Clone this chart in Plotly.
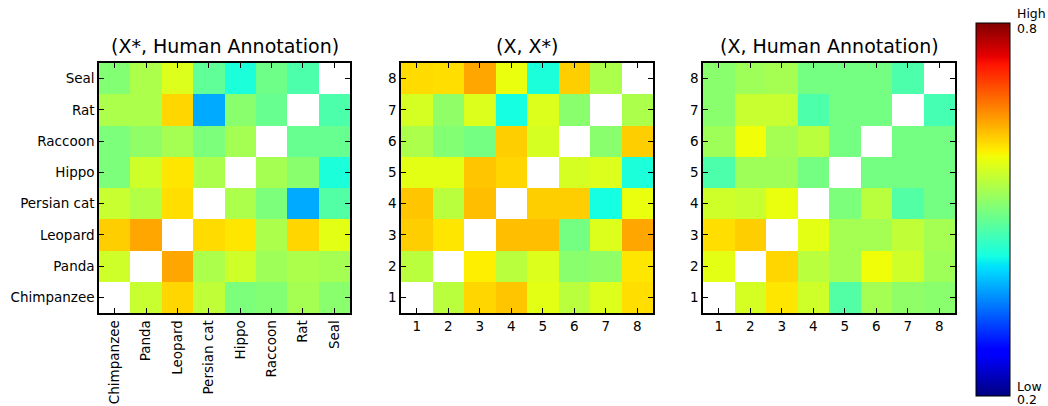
import numpy as np
import plotly.graph_objects as go

W, H = 1048, 406
nan = None

animals = ["Chimpanzee", "Panda", "Leopard", "Persian cat", "Hippo", "Raccoon", "Rat", "Seal"]
nums = ["1", "2", "3", "4", "5", "6", "7", "8"]

# rows listed bottom (row 1) to top (row 8); columns left to right
z_xstar_human = [
    [nan, 0.555, 0.61, 0.55, 0.50, 0.505, 0.53, 0.51],
    [0.56, nan, 0.64, 0.535, 0.56, 0.525, 0.535, 0.53],
    [0.615, 0.64, nan, 0.607, 0.60, 0.535, 0.61, 0.575],
    [0.555, 0.54, 0.605, nan, 0.535, 0.50, 0.375, 0.47],
    [0.50, 0.56, 0.60, 0.535, nan, 0.53, 0.51, 0.43],
    [0.50, 0.515, 0.53, 0.50, 0.53, nan, 0.485, 0.485],
    [0.535, 0.535, 0.61, 0.375, 0.51, 0.485, nan, 0.465],
    [0.505, 0.535, 0.57, 0.48, 0.43, 0.49, 0.465, nan],
]

z_x_xstar = [
    [nan, 0.545, 0.61, 0.62, 0.575, 0.545, 0.57, 0.605],
    [0.545, nan, 0.595, 0.545, 0.57, 0.51, 0.515, 0.60],
    [0.615, 0.60, nan, 0.625, 0.625, 0.495, 0.57, 0.64],
    [0.62, 0.545, 0.625, nan, 0.615, 0.615, 0.425, 0.58],
    [0.575, 0.575, 0.62, 0.61, nan, 0.565, 0.57, 0.43],
    [0.535, 0.505, 0.495, 0.615, 0.565, nan, 0.51, 0.615],
    [0.565, 0.515, 0.57, 0.425, 0.57, 0.51, nan, 0.535],
    [0.607, 0.605, 0.64, 0.58, 0.43, 0.615, 0.535, nan],
]

z_x_human = [
    [nan, 0.565, 0.60, 0.56, 0.47, 0.53, 0.515, 0.51],
    [0.575, nan, 0.61, 0.545, 0.53, 0.585, 0.56, 0.525],
    [0.605, 0.615, nan, 0.575, 0.53, 0.53, 0.55, 0.53],
    [0.56, 0.555, 0.58, nan, 0.50, 0.545, 0.47, 0.495],
    [0.465, 0.525, 0.525, 0.495, nan, 0.495, 0.495, 0.495],
    [0.525, 0.585, 0.53, 0.545, 0.495, nan, 0.495, 0.495],
    [0.51, 0.555, 0.555, 0.465, 0.495, 0.495, nan, 0.46],
    [0.51, 0.525, 0.53, 0.495, 0.495, 0.495, 0.465, nan],
]

titles = ["(X*, Human Annotation)", "(X, X*)", "(X, Human Annotation)"]
zmin, zmax = 0.2, 0.8

# matplotlib "jet" colormap as a Plotly colorscale
stops = [0, 0.11, 0.125, 0.34, 0.35, 0.375, 0.64, 0.65, 0.66, 0.89, 0.91, 1.0]
r = np.interp(stops, [0, 0.35, 0.66, 0.89, 1], [0, 0, 1, 1, 0.5])
g = np.interp(stops, [0, 0.125, 0.375, 0.64, 0.91, 1], [0, 0, 1, 1, 0, 0])
b = np.interp(stops, [0, 0.11, 0.34, 0.65, 1], [0.5, 1, 1, 0, 0])
jet = [[s, "rgb(%d,%d,%d)" % (round(rr * 255), round(gg * 255), round(bb * 255))]
       for s, rr, gg, bb in zip(stops, r, g, b)]

panels = [(99, 350), (401, 653), (703, 955)]
ytop, ybot = 63, 313
FONT = "DejaVu Sans"

fig = go.Figure()
zs = [z_xstar_human, z_x_xstar, z_x_human]
labels = [animals, nums, nums]
for i, (z, lab) in enumerate(zip(zs, labels)):
    idx = list(range(1, 9))
    fig.add_trace(go.Heatmap(
        z=z, x=idx, y=idx, colorscale=jet, zmin=zmin, zmax=zmax,
        xaxis="x" if i == 0 else "x%d" % (i + 1),
        yaxis="y" if i == 0 else "y%d" % (i + 1),
        showscale=(i == 0), hoverongaps=False,
        colorbar=dict(
            x=976 / W, xanchor="left", y=1 - 23 / H, yanchor="top",
            lenmode="pixels", len=373, thicknessmode="pixels", thickness=34,
            xpad=0, ypad=0, outlinewidth=1, outlinecolor="black",
            showticklabels=False, ticks="",
        ) if i == 0 else None,
    ))
    x0, x1 = panels[i]
    ax = dict(
        domain=[x0 / W, x1 / W], range=[0.5, 8.5], tickvals=idx, ticktext=lab,
        ticks="inside", ticklen=5, tickwidth=1, tickcolor="black",
        showline=True, linecolor="black", linewidth=1.5, mirror="allticks",
        showgrid=False, zeroline=False, tickfont=dict(family=FONT, size=13.5, color="black"),
        tickangle=-90 if i == 0 else 0, anchor="y" if i == 0 else "y%d" % (i + 1),
    )
    ay = dict(
        domain=[1 - ybot / H, 1 - ytop / H], range=[0.5, 8.5], tickvals=idx, ticktext=lab,
        ticks="inside", ticklen=5, tickwidth=1, tickcolor="black",
        showline=True, linecolor="black", linewidth=1.5, mirror="allticks",
        showgrid=False, zeroline=False, tickfont=dict(family=FONT, size=13.5, color="black"),
        anchor="x" if i == 0 else "x%d" % (i + 1),
    )
    fig.layout["xaxis" if i == 0 else "xaxis%d" % (i + 1)] = ax
    fig.layout["yaxis" if i == 0 else "yaxis%d" % (i + 1)] = ay
    fig.add_annotation(text=titles[i], x=(x0 + x1) / 2 / W, y=1 - 46 / H, xref="paper", yref="paper",
                       showarrow=False, font=dict(family=FONT, size=19, color="black"),
                       xanchor="center", yanchor="middle")

for txt, py in [("High", 14), ("0.8", 29), ("Low", 386), ("0.2", 399)]:
    fig.add_annotation(text=txt, x=1016 / W, y=1 - py / H, xref="paper", yref="paper",
                       showarrow=False, font=dict(family=FONT, size=12.5, color="black"),
                       xanchor="left", yanchor="middle", borderpad=0)

fig.update_layout(
    width=W, height=H, margin=dict(l=0, r=0, t=0, b=0),
    paper_bgcolor="white", plot_bgcolor="white", showlegend=False,
)
fig.write_html("out.html")
